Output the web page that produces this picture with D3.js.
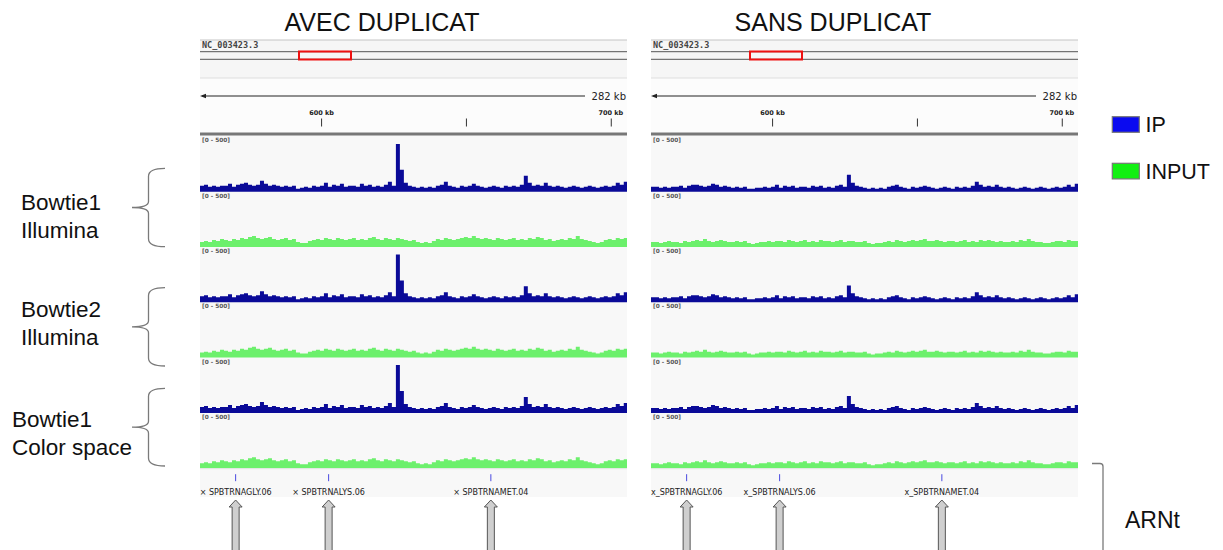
<!DOCTYPE html>
<html>
<head>
<meta charset="utf-8">
<script src="https://cdn.jsdelivr.net/npm/d3@7"></script>
<style>
  body { margin: 0; background: #fff; }
  svg { display: block; }
</style>
</head>
<body>
<div id="chart"></div>
<script>
// genomic window shown by both panels (kb)
const viewKb = [558.2, 705.6];
const binStartKb = 558.2;
const binKb = 1.38;

const rulerTicks = [600, 650, 700];
const rulerLabels = ["600 kb", "", "700 kb"];

const aligners = [["Bowtie1", "Illumina"], ["Bowtie2", "Illumina"], ["Bowtie1", "Color space"]];

const trnaNames = ["SPBTRNAGLY.06", "SPBTRNALYS.06", "SPBTRNAMET.04"];
const trnaKb = [570.5, 602.6, 658.6];

// coverage per bin, scale [0 - 500]
const ipAvec = [54, 63, 45, 54, 45, 54, 54, 72, 45, 63,
    72, 81, 63, 54, 63, 99, 72, 54, 63, 54,
    45, 54, 45, 54, 27, 36, 45, 36, 54, 45,
    54, 81, 45, 63, 54, 72, 45, 54, 54, 45,
    72, 54, 63, 45, 54, 45, 63, 90, 54, 432,
    198, 81, 54, 45, 36, 45, 36, 45, 36, 54,
    63, 90, 54, 45, 36, 54, 45, 54, 72, 54,
    45, 36, 45, 54, 45, 36, 54, 45, 54, 45,
    63, 144, 81, 54, 63, 54, 81, 54, 45, 54,
    45, 36, 45, 54, 45, 36, 45, 54, 45, 36,
    45, 54, 45, 54, 81, 63, 90];

const inputAvec = [45, 54, 45, 63, 54, 72, 63, 54, 72, 63,
    81, 72, 90, 99, 81, 72, 81, 90, 72, 63,
    72, 81, 63, 72, 45, 36, 36, 54, 63, 72,
    63, 81, 72, 63, 81, 72, 63, 72, 81, 63,
    72, 63, 81, 90, 72, 63, 81, 72, 63, 81,
    72, 63, 54, 63, 45, 36, 45, 36, 54, 72,
    63, 81, 72, 63, 72, 81, 90, 81, 99, 81,
    72, 81, 72, 63, 81, 72, 63, 72, 81, 63,
    72, 63, 81, 72, 90, 81, 63, 72, 54, 63,
    72, 63, 81, 72, 99, 72, 63, 54, 45, 36,
    45, 63, 72, 63, 81, 72, 81];

const ipSans = [45, 45, 36, 45, 36, 45, 45, 54, 36, 54,
    63, 63, 54, 45, 54, 72, 63, 45, 54, 45,
    36, 45, 36, 45, 27, 27, 36, 36, 45, 36,
    45, 63, 36, 54, 45, 54, 36, 45, 45, 36,
    54, 45, 54, 36, 45, 36, 54, 63, 45, 153,
    81, 54, 45, 36, 27, 36, 27, 36, 27, 45,
    54, 63, 45, 36, 27, 45, 36, 45, 54, 45,
    36, 27, 36, 45, 36, 27, 45, 36, 45, 36,
    54, 90, 63, 45, 54, 45, 63, 45, 36, 45,
    36, 27, 36, 45, 36, 27, 36, 45, 36, 27,
    36, 45, 36, 45, 63, 45, 72];

const inputSans = [45, 45, 36, 45, 54, 45, 45, 36, 54, 45,
    54, 63, 54, 72, 54, 45, 54, 63, 54, 45,
    45, 54, 45, 54, 36, 27, 36, 45, 45, 54,
    45, 54, 54, 45, 63, 54, 45, 54, 63, 45,
    54, 45, 63, 54, 54, 45, 54, 63, 45, 54,
    54, 45, 45, 54, 36, 27, 36, 36, 45, 54,
    45, 63, 54, 45, 54, 63, 54, 63, 72, 54,
    54, 63, 54, 45, 54, 54, 45, 54, 63, 45,
    54, 45, 63, 54, 63, 54, 45, 54, 45, 45,
    54, 45, 63, 54, 72, 54, 45, 45, 36, 36,
    45, 54, 54, 45, 63, 54, 54];

class BrowserFigure {

    constructor(parentElement) {
        this.parentElement = parentElement;
        this.initVis();
    }

    initVis() {
        let vis = this;

        vis.width = 1223;
        vis.height = 550;
        vis.panelW = 427;
        vis.trackTop = 136.4;
        vis.trackH = 55.3;
        vis.ipColor = "#0a0a98";
        vis.inputColor = "#6cf06c";
        vis.labelFont = "'Liberation Sans', Arial, sans-serif";

        vis.svg = d3.select("#" + vis.parentElement).append("svg")
            .attr("width", vis.width)
            .attr("height", vis.height);

        vis.x = d3.scaleLinear().domain(viewKb).range([0, vis.panelW]);
        vis.y = d3.scaleLinear().domain([0, 500]).range([vis.trackH, 0]);

        vis.drawPanel(200, "AVEC DUPLICAT", ipAvec, inputAvec, "× ", 0);
        vis.drawPanel(651, "SANS DUPLICAT", ipSans, inputSans, "x_", 1);
        vis.drawSideLabels();
        vis.drawLegend();
    }

    drawPanel(x0, title, ip, input, prefix, idx) {
        let vis = this;
        let g = vis.svg.append("g").attr("transform", "translate(" + x0 + ",0)");

        g.append("defs").append("clipPath").attr("id", "clip" + idx)
            .append("rect").attr("width", vis.panelW).attr("height", vis.height);

        // title
        g.append("text")
            .attr("x", 182).attr("y", 31)
            .attr("text-anchor", "middle")
            .attr("font-family", vis.labelFont)
            .attr("font-size", 25)
            .attr("fill", "#111")
            .text(title);

        // backgrounds
        g.append("rect").attr("y", 40).attr("width", vis.panelW).attr("height", 38).attr("fill", "#f6f6f6");
        g.append("rect").attr("y", 78).attr("width", vis.panelW).attr("height", 54).attr("fill", "#fcfcfc");
        g.append("rect").attr("y", 135).attr("width", vis.panelW).attr("height", 362).attr("fill", "#f8f8f8");

        g.append("line").attr("x1", 0).attr("x2", vis.panelW).attr("y1", 40).attr("y2", 40)
            .attr("stroke", "#c4c4c4");

        g.append("text")
            .attr("x", 2).attr("y", 48)
            .attr("font-family", "'DejaVu Sans Mono', monospace")
            .attr("font-size", 8.5)
            .attr("font-weight", "bold")
            .attr("fill", "#444")
            .text("NC_003423.3");

        // chromosome ideogram
        [51.7, 59.3].forEach(function(yy) {
            g.append("line").attr("x1", 0).attr("x2", vis.panelW).attr("y1", yy).attr("y2", yy)
                .attr("stroke", "#555").attr("stroke-width", 1);
        });
        g.append("rect")
            .attr("x", 99).attr("y", 51.5).attr("width", 52).attr("height", 8)
            .attr("fill", "none").attr("stroke", "#ee1111").attr("stroke-width", 2);

        g.append("line").attr("x1", 0).attr("x2", vis.panelW).attr("y1", 78).attr("y2", 78)
            .attr("stroke", "#dedede");

        // window width arrow
        g.append("line").attr("x1", 2).attr("x2", 385).attr("y1", 96).attr("y2", 96)
            .attr("stroke", "#222").attr("stroke-width", 1);
        g.append("path").attr("d", "M0,96 L6,93.8 L6,98.2 Z").attr("fill", "#222");
        g.append("text")
            .attr("x", vis.panelW - 1).attr("y", 100)
            .attr("text-anchor", "end")
            .attr("font-family", "'DejaVu Sans', sans-serif")
            .attr("font-size", 10)
            .attr("fill", "#222")
            .text("282 kb");

        // ruler
        let axis = d3.axisTop(vis.x)
            .tickValues(rulerTicks)
            .tickSize(8)
            .tickPadding(4)
            .tickFormat(function(d, i) { return rulerLabels[i]; });
        let ax = g.append("g").attr("transform", "translate(0,126.5)").call(axis);
        ax.select(".domain").remove();
        ax.selectAll(".tick line").attr("stroke", "#333");
        ax.selectAll(".tick text")
            .attr("font-family", "'DejaVu Sans', sans-serif")
            .attr("font-size", 6.5)
            .attr("font-weight", "bold")
            .attr("fill", "#222");
        ax.selectAll(".tick").filter(function(d) { return d === 700; }).select("text")
            .attr("text-anchor", "end").attr("dx", 12);

        g.append("rect").attr("y", 132.5).attr("width", vis.panelW).attr("height", 3).attr("fill", "#777");

        // coverage tracks
        aligners.forEach(function(a, r) {
            vis.drawTrack(g, ip, vis.ipColor, 2 * r, idx);
            vis.drawTrack(g, input, vis.inputColor, 2 * r + 1, idx);
        });

        // tRNA feature track
        let geneTop = vis.trackTop + 6 * vis.trackH;
        g.append("line").attr("x1", 0).attr("x2", vis.panelW).attr("y1", geneTop + 0.5).attr("y2", geneTop + 0.5)
            .attr("stroke", "#e4e4e4");
        g.selectAll(".trna-tick").data(trnaKb).enter().append("line")
            .attr("class", "trna-tick")
            .attr("x1", function(d) { return vis.x(d); })
            .attr("x2", function(d) { return vis.x(d); })
            .attr("y1", geneTop + 6).attr("y2", geneTop + 13)
            .attr("stroke", "#4a4ae0").attr("stroke-width", 1);
        g.selectAll(".trna-label").data(trnaKb).enter().append("text")
            .attr("class", "trna-label")
            .attr("x", function(d) { return vis.x(d); })
            .attr("y", geneTop + 27)
            .attr("text-anchor", "middle")
            .attr("font-family", "'DejaVu Sans', sans-serif")
            .attr("font-size", 8)
            .attr("fill", "#222")
            .text(function(d, i) { return prefix + trnaNames[i]; });

        // block arrows pointing to the tRNAs
        g.selectAll(".trna-arrow").data(trnaKb).enter().append("path")
            .attr("class", "trna-arrow")
            .attr("d", function(d) {
                let cx = vis.x(d);
                return "M" + cx + ",500 L" + (cx + 6.5) + ",507 L" + (cx + 3.5) + ",507 L" + (cx + 3.5) + ",552"
                    + " L" + (cx - 3.5) + ",552 L" + (cx - 3.5) + ",507 L" + (cx - 6.5) + ",507 Z";
            })
            .attr("fill", "#cfcfcf")
            .attr("stroke", "#555")
            .attr("stroke-width", 1);
    }

    drawTrack(g, values, color, k, idx) {
        let vis = this;
        let t = g.append("g").attr("transform", "translate(0," + (vis.trackTop + k * vis.trackH) + ")");

        let pts = values.map(function(v, i) { return { kb: binStartKb + i * binKb, v: v }; });
        pts.push({ kb: binStartKb + values.length * binKb, v: values[values.length - 1] });

        let area = d3.area()
            .curve(d3.curveStepAfter)
            .x(function(d) { return vis.x(d.kb); })
            .y0(vis.trackH)
            .y1(function(d) { return vis.y(d.v); });

        t.append("path")
            .datum(pts)
            .attr("clip-path", "url(#clip" + idx + ")")
            .attr("d", area)
            .attr("fill", color);

        t.append("text")
            .attr("x", 2).attr("y", 6)
            .attr("font-family", "'DejaVu Sans', sans-serif")
            .attr("font-size", 5.8)
            .attr("font-weight", "bold")
            .attr("fill", "#555")
            .text("[0 - 500]");
    }

    drawSideLabels() {
        let vis = this;
        // brace extents and text positions for each aligner
        let braces = [{ top: 168.3, bottom: 246.7, tx: 21, ty: 210 },
            { top: 287.7, bottom: 366, tx: 21, ty: 316.7 },
            { top: 388.3, bottom: 466, tx: 12, ty: 426.7 }];

        braces.forEach(function(b, r) {
            let m = (b.top + b.bottom) / 2;
            let path = d3.path();
            path.moveTo(165, b.top);
            path.quadraticCurveTo(148.5, b.top, 148.5, b.top + 8);
            path.lineTo(148.5, m - 6);
            path.quadraticCurveTo(148.5, m, 132, m);
            path.quadraticCurveTo(148.5, m, 148.5, m + 6);
            path.lineTo(148.5, b.bottom - 8);
            path.quadraticCurveTo(148.5, b.bottom, 165, b.bottom);
            vis.svg.append("path").attr("d", path.toString())
                .attr("fill", "none").attr("stroke", "#7a7a7a").attr("stroke-width", 1.3);

            let txt = vis.svg.append("text")
                .attr("font-family", vis.labelFont)
                .attr("font-size", 22.5)
                .attr("fill", "#111");
            aligners[r].forEach(function(line, j) {
                txt.append("tspan").attr("x", b.tx).attr("y", b.ty + j * 28).text(line);
            });
        });

        // ARNt bracket
        vis.svg.append("path")
            .attr("d", "M1092,463.5 H1100 Q1103,463.5 1103,466.5 V550")
            .attr("fill", "none").attr("stroke", "#7a7a7a").attr("stroke-width", 1.3);
        vis.svg.append("text")
            .attr("x", 1125).attr("y", 528.3)
            .attr("font-family", vis.labelFont)
            .attr("font-size", 23)
            .attr("fill", "#111")
            .text("ARNt");
    }

    drawLegend() {
        let vis = this;
        let items = [{ name: "IP", color: "#0a0af0", y: 116.7 }, { name: "INPUT", color: "#12f012", y: 163.3 }];
        let lg = vis.svg.append("g");
        items.forEach(function(d) {
            lg.append("rect")
                .attr("x", 1112.3).attr("y", d.y).attr("width", 27).attr("height", 15.6)
                .attr("fill", d.color).attr("stroke", "#777").attr("stroke-width", 1.2);
            lg.append("text")
                .attr("x", 1145.5).attr("y", d.y + 15.6)
                .attr("font-family", vis.labelFont)
                .attr("font-size", 21.5)
                .attr("fill", "#111")
                .text(d.name);
        });
    }
}

new BrowserFigure("chart");
</script>
</body>
</html>
